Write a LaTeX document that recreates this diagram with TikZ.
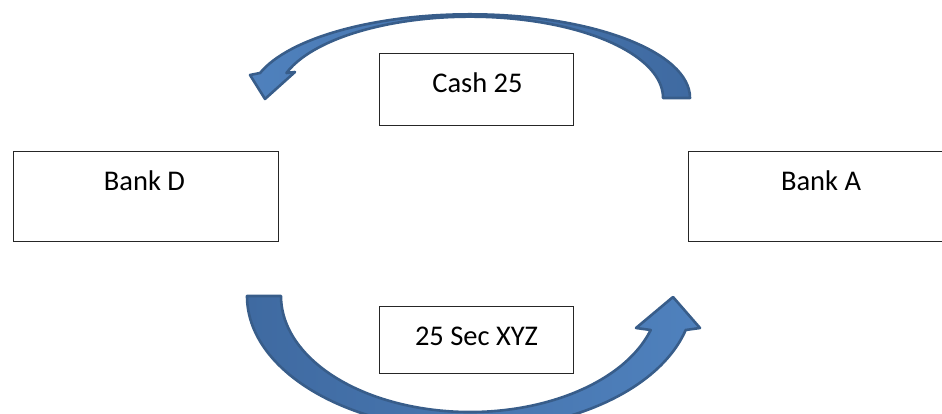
\documentclass[tikz,border=0pt]{standalone}
\usepackage{fontspec}
\setmainfont{Carlito}
\definecolor{arrowfill}{HTML}{4F81BD}
\definecolor{arrowdark}{HTML}{3F6AA1}
\definecolor{arrowline}{HTML}{385D8A}
\begin{document}
\begin{tikzpicture}[x=1pt,y=1pt,
  box/.style={draw=black!85, line width=1.2pt, fill=white, inner sep=0pt, anchor=south west},
  lbl/.style={font=\fontsize{28.5}{34}\selectfont, anchor=base, inner sep=0pt},
  barrow/.style={draw=arrowline, line width=2.6pt, line join=round}]
\useasboundingbox (0,0) rectangle (942,414);
% boxes
\node[box, minimum width=265.3pt, minimum height=90pt] (bankD) at (12.7,172) {};
\node[box, minimum width=260pt, minimum height=90pt] (bankA) at (688,172) {};
\node[box, minimum width=194pt, minimum height=72pt] (cash) at (379,288) {};
\node[box, minimum width=194pt, minimum height=67pt] (sec) at (379,40) {};
% labels
\node[lbl] (bankDt) at (144.5,223) {Bank D};
\node[lbl] (bankAt) at (821,223) {Bank A};
\node[lbl] (casht) at (477.5,321) {Cash 25};
\node[lbl] (sect) at (476.5,68) {25 Sec XYZ};
% top curved arrow (right to left)
\shadedraw[barrow, left color=arrowfill, right color=arrowdark]
  (690,316) arc[start angle=0, end angle=162.62, x radius=220, y radius=83.7]
  -- (250,339) -- (265,315) -- (295,342) -- (286.4,341)
  arc[start angle=162.09, end angle=0, x radius=193, y radius=81.3] -- cycle;
% bottom curved arrow (left to right)
\shadedraw[barrow, left color=arrowdark, right color=arrowfill]
  (247,118) arc[start angle=180, end angle=345.3, x radius=223, y radius=134]
  -- (700,86) -- (673,117) -- (636,86) -- (650.7,84.0)
  arc[start angle=342.96, end angle=180, x radius=189, y radius=116] -- cycle;
\end{tikzpicture}
\end{document}
